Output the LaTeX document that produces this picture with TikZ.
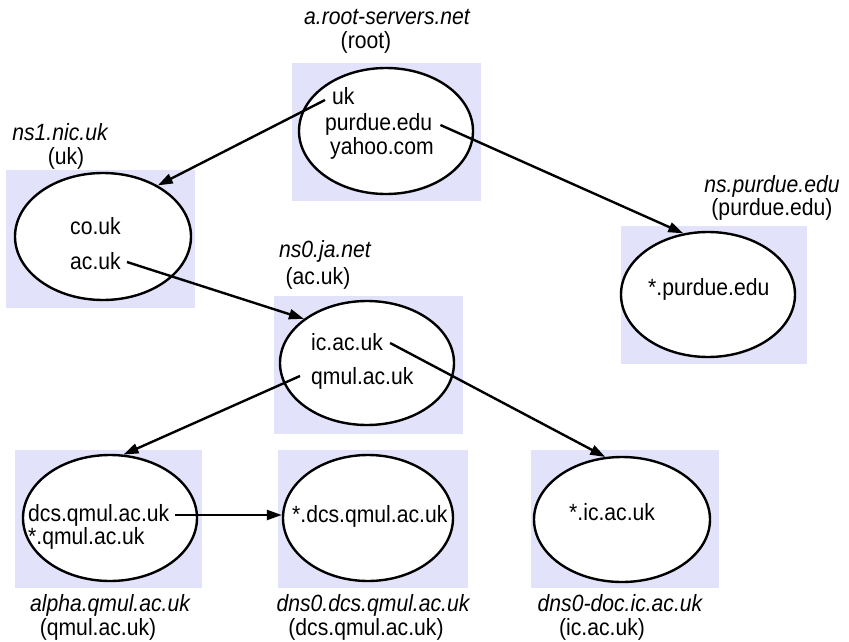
\documentclass[tikz,border=0pt]{standalone}
\usepackage{fontspec}
\setmainfont{Liberation Sans}[FakeStretch=0.9]
\usetikzlibrary{arrows.meta,shapes.geometric}
\definecolor{boxbg}{HTML}{E2E2FA}
\begin{document}
\begin{tikzpicture}[x=1pt,y=-1pt,
  bgbox/.style={fill=boxbg,draw=none},
  srv/.style={ellipse,draw,line width=2.4pt,fill=white,inner sep=0pt},
  txt/.style={inner sep=0pt,anchor=base west,font=\fontsize{23.5}{28}\selectfont},
  lbl/.style={inner sep=0pt,anchor=base,font=\fontsize{23.5}{28}\selectfont},
  ilbl/.style={lbl,font=\fontsize{23.5}{28}\selectfont\itshape},
  arr/.style={line width=2.4pt,-{Triangle[length=15pt,width=10pt]}}]
\useasboundingbox (0,0) rectangle (849,642);
% background boxes
\fill[bgbox] (292,63) rectangle (481,201);
\fill[bgbox] (6,170) rectangle (195,308);
\fill[bgbox] (274,296) rectangle (463,434);
\fill[bgbox] (621,226) rectangle (807,364);
\fill[bgbox] (15,450) rectangle (202,588);
\fill[bgbox] (278,450) rectangle (468,588);
\fill[bgbox] (531,450) rectangle (719,588);
% ellipses
\node[srv,minimum width=174pt,minimum height=126pt] (roote) at (386,131) {};
\node[srv,minimum width=176pt,minimum height=127pt] (ns1e) at (103,236.5) {};
\node[srv,minimum width=174pt,minimum height=124pt] (ns0e) at (367,363) {};
\node[srv,minimum width=174pt,minimum height=125pt] (pue) at (708,294.5) {};
\node[srv,minimum width=174pt,minimum height=126pt] (alphae) at (110,518) {};
\node[srv,minimum width=170pt,minimum height=126pt] (dcse) at (368,518) {};
\node[srv,minimum width=176pt,minimum height=125pt] (doce) at (622,519.5) {};
% texts inside
\node[txt] (uk) at (332,104) {uk};
\node[txt] (pe) at (325,130) {purdue.edu};
\node[txt] (yc) at (330,154) {yahoo.com};
\node[txt] (cou) at (70,234) {co.uk};
\node[txt] (acuk) at (70,269) {ac.uk};
\node[txt] (icac) at (311,350) {ic.ac.uk};
\node[txt] (qmul) at (311,384) {qmul.ac.uk};
\node[txt] (spu) at (648,295) {*.purdue.edu};
\node[txt] (dcs) at (28,521) {dcs.qmul.ac.uk};
\node[txt] (sqm) at (28,544) {*.qmul.ac.uk};
\node[txt] (sdcs) at (292,522) {*.dcs.qmul.ac.uk};
\node[txt] (sic) at (569,520) {*.ic.ac.uk};
% labels
\node[ilbl] (l1a) at (387,25) {a.root-servers.net};
\node[lbl] (l1b) at (366,49) {(root)};
\node[ilbl] (l2a) at (60,140) {ns1.nic.uk};
\node[lbl] (l2b) at (66,164) {(uk)};
\node[ilbl] (l3a) at (325,257) {ns0.ja.net};
\node[lbl] (l3b) at (318,284) {(ac.uk)};
\node[ilbl] (l4a) at (772,192) {ns.purdue.edu};
\node[lbl] (l4b) at (772,215) {(purdue.edu)};
\node[ilbl] (l5a) at (110,611) {alpha.qmul.ac.uk};
\node[lbl] (l5b) at (98,635) {(qmul.ac.uk)};
\node[ilbl] (l6a) at (373,611) {dns0.dcs.qmul.ac.uk};
\node[lbl] (l6b) at (366,635) {(dcs.qmul.ac.uk)};
\node[ilbl] (l7a) at (620,611) {dns0-doc.ic.ac.uk};
\node[lbl] (l7b) at (602,635) {(ic.ac.uk)};
% arrows
\draw[arr] ([xshift=-7pt,yshift=4pt]uk.base west) -- (ns1e.43);
\draw[arr] ([xshift=8pt,yshift=5pt]pe.base east) -- (pue.112);
\draw[arr] ([xshift=6pt,yshift=7pt]acuk.base east) -- (ns0e.145);
\draw[arr] ([xshift=7pt,yshift=7pt]icac.base east) -- (doce.105);
\draw[arr] ([xshift=-11pt,yshift=8pt]qmul.base west) -- (alphae.78);
\coordinate (d1) at ([xshift=6pt,yshift=6pt]dcs.base east);
\draw[arr] (d1) -- (d1 -| dcse.west);
\end{tikzpicture}
\end{document}
